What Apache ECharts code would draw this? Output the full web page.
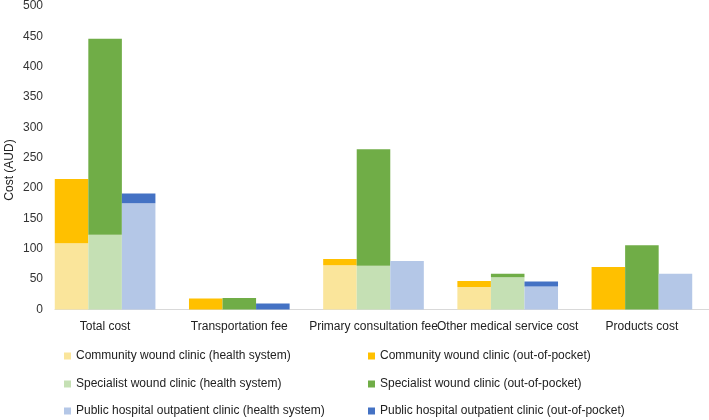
<!DOCTYPE html>
<html>
<head>
<meta charset="utf-8">
<script src="https://cdn.jsdelivr.net/npm/echarts@6/dist/echarts.min.js"></script>
<style>html,body{margin:0;padding:0;background:#fff;}#c{width:709px;height:420px;}</style>
</head>
<body>
<div id="c"></div>
<script>
var categories = ['Total cost', 'Transportation fee', 'Primary consultation fee', 'Other medical service cost', 'Products cost'];
var communityHealth = [109, 0, 73, 37, 0];
var communityOOP = [106, 18, 10, 10, 70];
var specialistHealth = [123, 0, 72, 53, 0];
var specialistOOP = [323, 19, 192, 6, 106];
var publicHealth = [175, 0, 80, 38, 59];
var publicOOP = [16, 10, 0, 8, 0];
var seriesNames = [
  'Community wound clinic (health system)',
  'Community wound clinic (out-of-pocket)',
  'Specialist wound clinic (health system)',
  'Specialist wound clinic (out-of-pocket)',
  'Public hospital outpatient clinic (health system)',
  'Public hospital outpatient clinic (out-of-pocket)'
];
var colors = ['#FAE59B', '#FFC000', '#C5E0B4', '#70AD47', '#B4C7E7', '#4472C4'];
var seriesData = [communityHealth, communityOOP, specialistHealth, specialistOOP, publicHealth, publicOOP];
var stacks = ['c', 'c', 's', 's', 'p', 'p'];

var font = "'Liberation Sans', Arial, Helvetica, sans-serif";
var chart = echarts.init(document.getElementById('c'), null, {renderer: 'canvas'});

var series = seriesNames.map(function (n, i) {
  return {
    name: n,
    type: 'bar',
    stack: stacks[i],
    xAxisIndex: 0,
    yAxisIndex: 0,
    barGap: '0%',
    barCategoryGap: '25%',
    itemStyle: {color: colors[i]},
    data: seriesData[i]
  };
});

var legendCols = [64, 368];
var legendRows = [350, 378, 405];
var legends = seriesNames.map(function (n, i) {
  return {
    orient: 'horizontal',
    left: legendCols[i % 2],
    top: legendRows[Math.floor(i / 2)],
    padding: 0,
    itemWidth: 7, itemHeight: 7,
    icon: 'rect',
    textStyle: {color: '#222', fontSize: 12, fontFamily: font},
    data: [n]
  };
});

chart.setOption({
  animation: false,
  backgroundColor: '#ffffff',
  grid: [
    {left: 38, width: 687.5, top: 6, bottom: 110.5, containLabel: false},
    {left: 55, right: 0, top: 6, bottom: 110.5, containLabel: false}
  ],
  xAxis: [
    {
      type: 'category', gridIndex: 0, data: categories,
      axisLine: {show: false}, axisTick: {show: false},
      axisLabel: {color: '#222', fontSize: 12, fontFamily: font, margin: 11, interval: 0}
    },
    {
      type: 'value', gridIndex: 1, min: 0, max: 1,
      axisLine: {show: true, lineStyle: {color: '#d9d9d9', width: 1}},
      axisTick: {show: false}, axisLabel: {show: false}, splitLine: {show: false}
    }
  ],
  yAxis: [
    {
      type: 'value', gridIndex: 0, min: 0, max: 500, interval: 50,
      axisLine: {show: false}, axisTick: {show: false}, axisLabel: {show: false}, splitLine: {show: false}
    },
    {
      type: 'value', gridIndex: 1, min: 0, max: 500, interval: 50,
      axisLine: {show: false}, axisTick: {show: false}, splitLine: {show: false},
      axisLabel: {color: '#333', fontSize: 12, fontFamily: font, margin: 12}
    }
  ],
  legend: legends,
  graphic: [
    {
      type: 'text', x: 4, y: 170, rotation: Math.PI / 2,
      style: {text: 'Cost (AUD)', fill: '#222', fontSize: 12, fontFamily: font, textAlign: 'center', textVerticalAlign: 'top'}
    }
  ],
  series: series
});
</script>
</body>
</html>
